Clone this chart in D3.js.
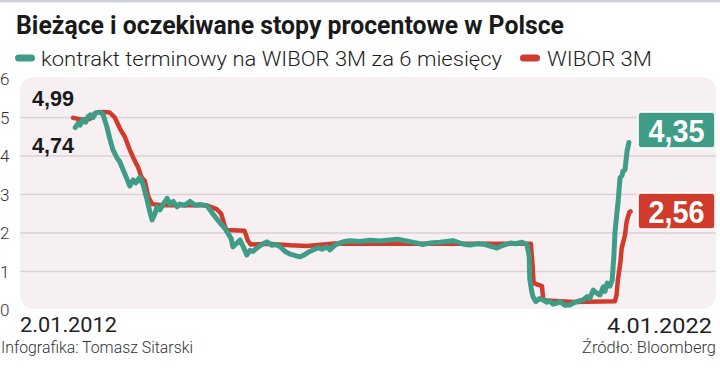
<!DOCTYPE html>
<html><head><meta charset="utf-8">
<script src="https://cdn.jsdelivr.net/npm/d3@7"></script>
<style>body{margin:0;background:#fff}svg{display:block}</style>
</head><body>
<script>
// ---- data (decimal years, percent) ----
const wiborYears = [2012.00,2012.15,2012.30,2012.40,2012.55,2012.66,2012.75,2012.84,2012.93,2013.02,2013.10,2013.17,2013.23,2013.29,2013.35,2013.42,2013.60,2014.00,2014.40,2014.58,2014.66,2014.73,2014.76,2015.08,2015.14,2015.19,2015.50,2015.90,2016.20,2016.50,2016.70,2018.00,2019.00,2020.22,2020.25,2020.27,2020.42,2020.44,2020.50,2021.00,2021.73,2021.76,2021.78,2021.83,2021.85,2021.91,2021.94,2021.99,2022.01];
const wiborValues = [4.99,4.95,4.96,5.12,5.14,5.13,5.00,4.72,4.50,4.16,3.90,3.70,3.45,3.35,2.95,2.75,2.72,2.72,2.72,2.62,2.50,2.15,2.08,2.06,1.80,1.70,1.72,1.68,1.66,1.70,1.73,1.72,1.72,1.72,1.17,0.70,0.62,0.30,0.25,0.21,0.23,0.40,0.75,1.27,1.60,1.95,2.30,2.54,2.56];
const fraYears = [2012.04,2012.09,2012.13,2012.18,2012.23,2012.27,2012.31,2012.36,2012.41,2012.48,2012.54,2012.61,2012.66,2012.72,2012.79,2012.84,2012.90,2012.97,2013.02,2013.08,2013.13,2013.20,2013.26,2013.33,2013.38,2013.42,2013.47,2013.51,2013.56,2013.62,2013.69,2013.74,2013.80,2013.87,2013.92,2014.01,2014.10,2014.19,2014.28,2014.33,2014.41,2014.46,2014.51,2014.59,2014.64,2014.71,2014.78,2014.84,2014.87,2014.93,2015.00,2015.07,2015.12,2015.18,2015.23,2015.30,2015.39,2015.48,2015.57,2015.64,2015.72,2015.81,2015.90,2015.95,2016.02,2016.08,2016.17,2016.25,2016.31,2016.40,2016.47,2016.56,2016.61,2016.70,2016.79,2016.88,2016.97,2017.15,2017.33,2017.51,2017.69,2017.82,2017.96,2018.14,2018.28,2018.41,2018.59,2018.71,2018.82,2018.95,2019.04,2019.13,2019.27,2019.40,2019.49,2019.61,2019.72,2019.85,2019.95,2020.06,2020.15,2020.19,2020.20,2020.24,2020.26,2020.31,2020.38,2020.44,2020.51,2020.56,2020.62,2020.69,2020.74,2020.83,2020.92,2021.01,2021.10,2021.16,2021.23,2021.28,2021.34,2021.39,2021.46,2021.52,2021.55,2021.59,2021.64,2021.68,2021.71,2021.73,2021.77,2021.79,2021.82,2021.86,2021.87,2021.91,2021.93,2021.95,2021.96,2021.98];
const fraValues = [4.74,4.85,4.80,4.95,4.88,5.02,5.07,5.00,5.12,5.14,5.08,4.75,4.45,4.15,3.95,3.85,3.64,3.40,3.22,3.38,3.30,3.45,3.25,2.86,2.55,2.34,2.50,2.68,2.60,2.75,2.90,2.75,2.82,2.68,2.75,2.72,2.82,2.72,2.74,2.73,2.70,2.60,2.50,2.35,2.26,2.15,2.00,1.85,1.64,1.72,1.82,1.60,1.43,1.55,1.52,1.61,1.70,1.77,1.68,1.70,1.64,1.52,1.45,1.43,1.40,1.38,1.45,1.52,1.56,1.62,1.58,1.64,1.56,1.68,1.74,1.78,1.80,1.78,1.81,1.79,1.82,1.84,1.80,1.75,1.70,1.74,1.76,1.78,1.80,1.74,1.70,1.69,1.72,1.70,1.66,1.61,1.68,1.74,1.72,1.76,1.70,1.40,0.80,0.45,0.34,0.22,0.30,0.26,0.20,0.24,0.15,0.18,0.22,0.12,0.13,0.20,0.24,0.26,0.35,0.30,0.52,0.45,0.39,0.60,0.48,0.70,0.62,0.78,1.40,2.00,2.60,2.86,3.43,3.50,3.60,3.64,3.90,4.16,4.20,4.35];
const yTicks = [0,1,2,3,4,5,6];
const title = "Bieżące i oczekiwane stopy procentowe w Polsce";
const legendLabels = ["kontrakt terminowy na WIBOR 3M za 6 miesięcy", "WIBOR 3M"];
const startLabel = "2.01.2012", endLabel = "4.01.2022";
const startValues = ["4,99", "4,74"];
const endValues = ["4,35", "2,56"];
const footLeft = "Infografika: Tomasz Sitarski", footRight = "Źródło: Bloomberg";

const GREEN = "#3e9c87", RED = "#d03b2c";
const W = 720, H = 368;
const svg = d3.select("body").append("svg").attr("width", W).attr("height", H);

const x = d3.scaleLinear().domain([2012.0, 2022.0]).range([73, 630]);
const y = d3.scaleLinear().domain([0, 6]).range([310, 79]);

// top border
svg.append("rect").attr("x",0).attr("y",0).attr("width",W).attr("height",2.5).attr("fill","#cdd0da");

// title
svg.append("text").attr("x",16).attr("y",34).text(title)
  .attr("font-family","'Liberation Sans Narrow', 'Roboto', sans-serif").attr("font-weight",700)
  .attr("font-size",25).attr("fill","#1a1a1a")
  .attr("textLength",548).attr("lengthAdjust","spacingAndGlyphs");

// legend
const leg = [{c:GREEN,x1:18.5,x2:31.5,tx:41,tl:461,t:legendLabels[0]},{c:RED,x1:523.5,x2:536.5,tx:547,tl:105,t:legendLabels[1]}];
leg.forEach(l=>{
  svg.append("line").attr("x1",l.x1).attr("x2",l.x2).attr("y1",58).attr("y2",58)
    .attr("stroke",l.c).attr("stroke-width",7).attr("stroke-linecap","round");
  svg.append("text").attr("x",l.tx).attr("y",66).text(l.t)
    .attr("font-family","Roboto, sans-serif").attr("font-weight",300).attr("font-size",21).attr("fill","#222")
    .attr("textLength",l.tl).attr("lengthAdjust","spacingAndGlyphs");
});

// plot background
svg.append("rect").attr("x",20).attr("y",77).attr("width",696).attr("height",232).attr("rx",14)
  .attr("fill","#f6f0f3");

// gridlines
svg.append("g").selectAll("line").data(yTicks.filter(d=>d>0 && d<6)).join("line")
  .attr("x1",20).attr("x2",716).attr("y1",d=>y(d)).attr("y2",d=>y(d))
  .attr("stroke","#dcd0d6").attr("stroke-width",1.5);

// y tick labels
svg.append("g").selectAll("text").data(yTicks).join("text")
  .attr("x",0).attr("y",d=>y(d)+6).text(d=>d)
  .attr("font-family","Roboto, sans-serif").attr("font-weight",300).attr("font-size",17).attr("fill","#333");

// lines
const lineGen = d3.line().x(d=>x(d[0])).y(d=>y(d[1])).curve(d3.curveLinear);
const wibor = wiborYears.map((t,i)=>[t,wiborValues[i]]);
const fra = fraYears.map((t,i)=>[t,fraValues[i]]);
svg.append("path").attr("d",lineGen(wibor)).attr("fill","none").attr("stroke",RED)
  .attr("stroke-width",4.5).attr("stroke-linejoin","round").attr("stroke-linecap","round");
svg.append("path").attr("d",lineGen(fra)).attr("fill","none").attr("stroke",GREEN)
  .attr("stroke-width",5).attr("stroke-linejoin","round").attr("stroke-linecap","round");

// start annotations
[[startValues[0],106],[startValues[1],153]].forEach(([t,yy])=>{
  svg.append("text").attr("x",32).attr("y",yy).text(t)
    .attr("font-family","'Liberation Sans Narrow', sans-serif").attr("font-weight",700)
    .attr("font-size",22).attr("fill","#1a1a1a").attr("textLength",42).attr("lengthAdjust","spacingAndGlyphs");
});

// end value boxes
[[endValues[0],GREEN,112],[endValues[1],RED,193]].forEach(([t,c,yy])=>{
  svg.append("rect").attr("x",638).attr("y",yy).attr("width",77).attr("height",36).attr("rx",3)
    .attr("fill",c).attr("stroke","#ffffff").attr("stroke-opacity",0.8).attr("stroke-width",2);
  svg.append("text").attr("x",676.5).attr("y",yy+30).attr("text-anchor","middle").text(t)
    .attr("font-family","'Liberation Sans Narrow', sans-serif").attr("font-weight",700)
    .attr("font-size",32).attr("fill","#fff").attr("textLength",56).attr("lengthAdjust","spacingAndGlyphs");
});

// x labels
svg.append("text").attr("x",20).attr("y",332).text(startLabel)
  .attr("font-family","Roboto, sans-serif").attr("font-size",21).attr("fill","#222")
  .attr("textLength",97).attr("lengthAdjust","spacingAndGlyphs");
svg.append("text").attr("x",607).attr("y",333).text(endLabel)
  .attr("font-family","Roboto, sans-serif").attr("font-size",21).attr("fill","#222")
  .attr("textLength",105).attr("lengthAdjust","spacingAndGlyphs");

// footer
svg.append("text").attr("x",1).attr("y",353).text(footLeft)
  .attr("font-family","Roboto, sans-serif").attr("font-weight",300).attr("font-size",17).attr("fill","#333")
  .attr("textLength",192).attr("lengthAdjust","spacingAndGlyphs");
svg.append("text").attr("x",716).attr("y",353).attr("text-anchor","end").text(footRight)
  .attr("font-family","Roboto, sans-serif").attr("font-weight",300).attr("font-size",16.5).attr("fill","#333");
</script>
</body></html>
